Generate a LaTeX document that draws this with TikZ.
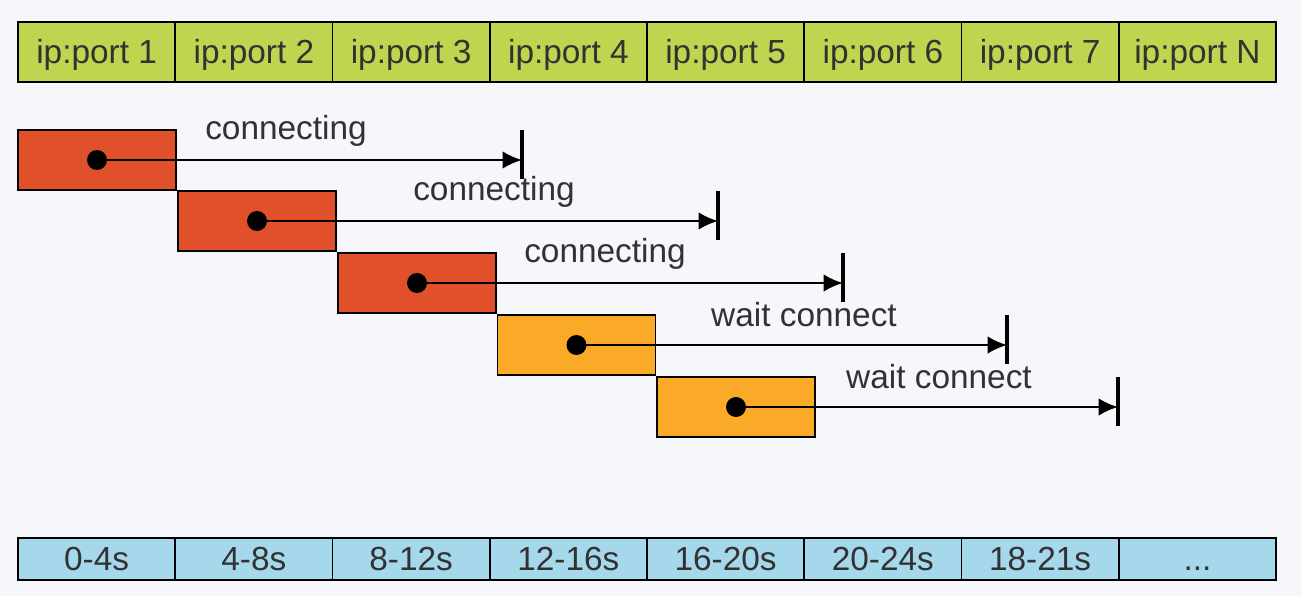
\documentclass[tikz,border=0pt]{standalone}
\usepackage{fontspec}
\setmainfont{Liberation Sans}
\usepackage{tikz}
\usetikzlibrary{arrows.meta}
\definecolor{bggrey}{RGB}{246,247,250}
\definecolor{textgrey}{RGB}{50,50,50}
\definecolor{portgreen}{RGB}{190,214,79}
\definecolor{slotblue}{RGB}{166,216,236}
\definecolor{taskred}{RGB}{224,80,42}
\definecolor{taskorange}{RGB}{251,170,40}

\begin{document}
\begin{tikzpicture}[
		x=0.02cm, y=-0.02cm,
		every node/.style={rectangle, draw, line width=1.1pt, inner sep=0pt, font=\fontsize{19}{23}\selectfont, text=textgrey},
		port/.style={fill=portgreen, minimum width=3.145cm, minimum height=1.2cm, text height=13.6pt, text depth=0pt},
		slot/.style={fill=slotblue, minimum width=3.145cm, minimum height=0.84cm, text height=13.6pt, text depth=0pt},
		task/.style={minimum width=3.16cm, minimum height=1.2cm},
		tag/.style={draw=none},
		dot/.style={circle, fill=black, minimum size=0.36cm},
		link/.style={line width=1.4pt, -{Latex[length=11pt, width=10pt]}},
		endbar/.style={line width=2.2pt}
	]
  \fill[bggrey] (0,0) rectangle (1302,596);
  \useasboundingbox (0,0) rectangle (1302,596);
  % ports
  \node (port_1) [port] at (96.6, 52) {ip:port 1};
  \node (port_2) [port] at (253.9, 52) {ip:port 2};
  \node (port_3) [port] at (411.1, 52) {ip:port 3};
  \node (port_4) [port] at (568.4, 52) {ip:port 4};
  \node (port_5) [port] at (725.6, 52) {ip:port 5};
  \node (port_6) [port] at (882.9, 52) {ip:port 6};
  \node (port_7) [port] at (1040.1, 52) {ip:port 7};
  \node (port_N) [port] at (1197.4, 52) {ip:port N};
  % time slots
  \node (time_1) [slot] at (96.6, 559) {0-4s};
  \node (time_2) [slot] at (253.9, 559) {4-8s};
  \node (time_3) [slot] at (411.1, 559) {8-12s};
  \node (time_4) [slot] at (568.4, 559) {12-16s};
  \node (time_5) [slot] at (725.6, 559) {16-20s};
  \node (time_6) [slot] at (882.9, 559) {20-24s};
  \node (time_7) [slot] at (1040.1, 559) {18-21s};
  \node (time_N) [slot] at (1197.4, 559) {...};
  % tasks
  \node (task_1) [task, fill=taskred] at (97, 160) {};
  \node (task_2) [task, fill=taskred] at (257, 221) {};
  \node (task_3) [task, fill=taskred] at (417, 283) {};
  \node (task_4) [task, fill=taskorange] at (576.5, 345) {};
  \node (task_5) [task, fill=taskorange] at (736, 407) {};
  \node (dot_1) [dot] at (task_1.center) {};
  \node (dot_2) [dot] at (task_2.center) {};
  \node (dot_3) [dot] at (task_3.center) {};
  \node (dot_4) [dot] at (task_4.center) {};
  \node (dot_5) [dot] at (task_5.center) {};
  \coordinate (end_1) at (522, 160);
  \coordinate (end_2) at (718, 221);
  \coordinate (end_3) at (843, 283);
  \coordinate (end_4) at (1007, 345);
  \coordinate (end_5) at (1118, 407);
  \node (state_1) [tag] at (286, 131) {connecting};
  \node (state_2) [tag] at (494, 192) {connecting};
  \node (state_3) [tag] at (605, 254) {connecting};
  \node (state_4) [tag] at (804, 315) {wait connect};
  \node (state_5) [tag] at (939, 377) {wait connect};
  \draw[link] (dot_1.center) -- (end_1);
  \draw[link] (dot_2.center) -- (end_2);
  \draw[link] (dot_3.center) -- (end_3);
  \draw[link] (dot_4.center) -- (end_4);
  \draw[link] (dot_5.center) -- (end_5);
  \draw[endbar] ([yshift=0.6cm]end_1) -- ([yshift=-0.38cm]end_1);
  \draw[endbar] ([yshift=0.6cm]end_2) -- ([yshift=-0.38cm]end_2);
  \draw[endbar] ([yshift=0.6cm]end_3) -- ([yshift=-0.38cm]end_3);
  \draw[endbar] ([yshift=0.6cm]end_4) -- ([yshift=-0.38cm]end_4);
  \draw[endbar] ([yshift=0.6cm]end_5) -- ([yshift=-0.38cm]end_5);
\end{tikzpicture}
\end{document}
